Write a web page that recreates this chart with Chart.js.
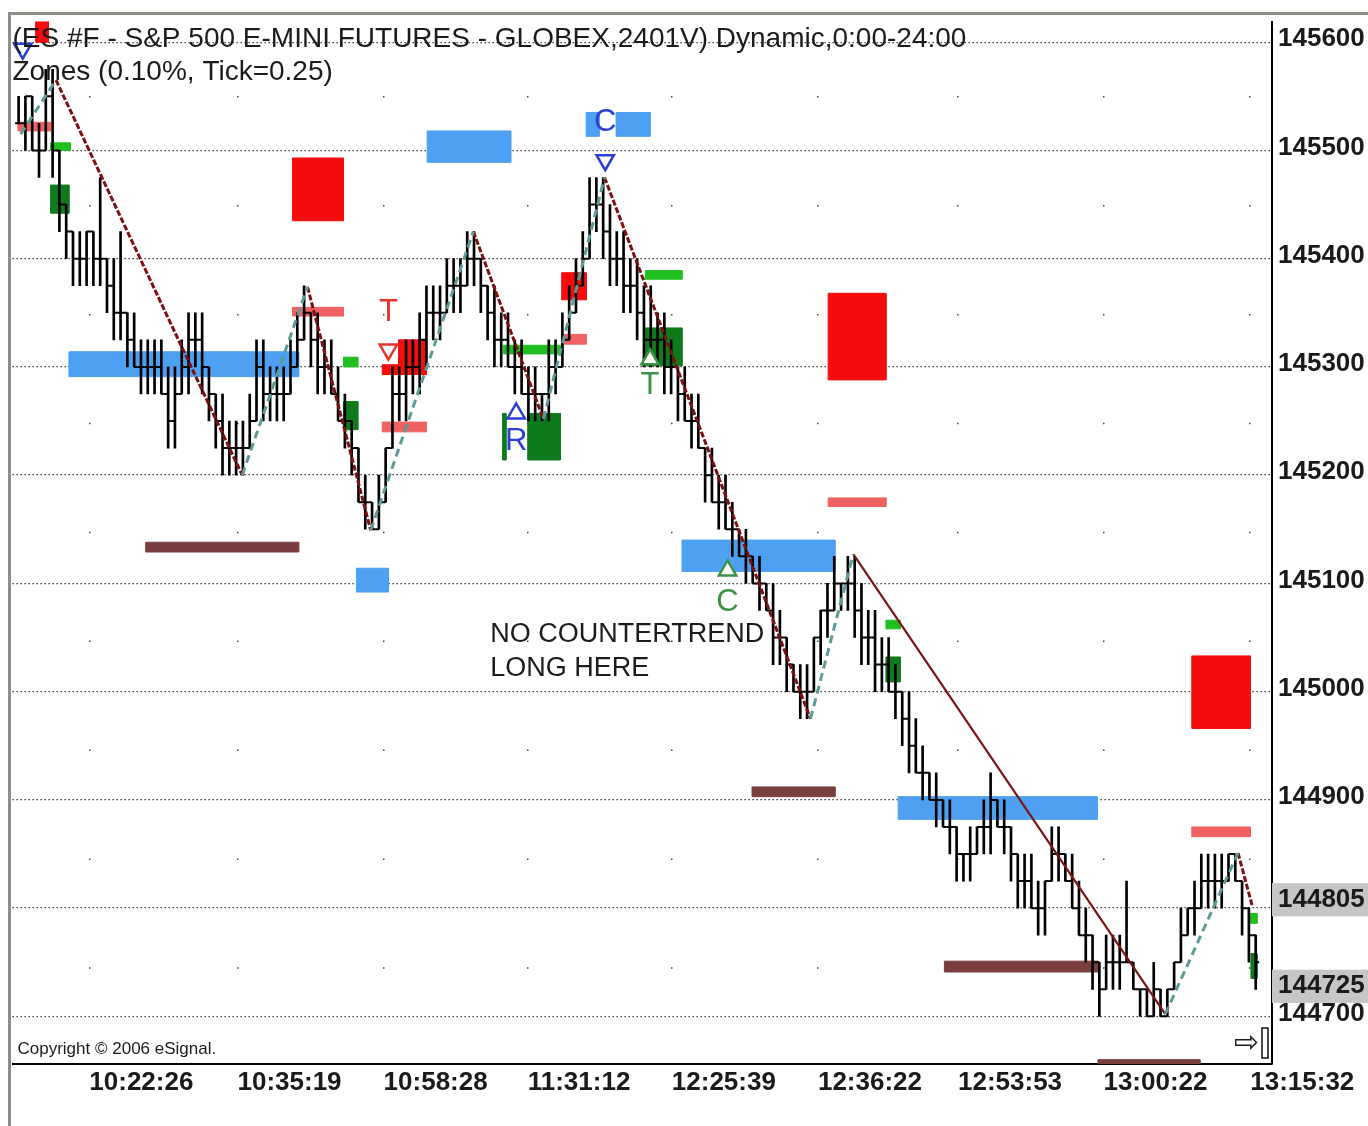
<!DOCTYPE html>
<html>
<head>
<meta charset="utf-8">
<title>ES #F zones</title>
<script src="https://cdn.jsdelivr.net/npm/chart.js@4.4.0/dist/chart.umd.min.js"></script>
<style>
  html, body { margin: 0; padding: 0; background: #fff; }
  #wrap { position: relative; width: 1368px; height: 1126px; overflow: hidden; }
  #frame { position: absolute; left: 8px; top: 12px; right: 0; bottom: 0;
           border-top: 3px solid #8e8e86; border-left: 3px solid #8e8e86; }
  canvas { position: absolute; left: 0; top: 0; }
</style>
</head>
<body>
<div id="wrap"><div id="frame"></div><canvas id="chart" width="1368" height="1126"></canvas></div>
<script>
// ----- price bars (2401 volume bars), one entry per bar -----
const highs = [
  145550, 145550, 145550, 145525, 145575, 145575, 145500, 145450, 145425, 145425,
  145425, 145425, 145475, 145400, 145400, 145425, 145350, 145350, 145325, 145325,
  145325, 145325, 145300, 145300, 145325, 145350, 145350, 145350, 145300, 145275,
  145275, 145250, 145250, 145250, 145275, 145325, 145325, 145300, 145300, 145300,
  145325, 145350, 145375, 145350, 145350, 145325, 145325, 145300, 145275, 145250,
  145225, 145200, 145175, 145200, 145225, 145300, 145300, 145325, 145325, 145350,
  145375, 145375, 145375, 145400, 145400, 145400, 145425, 145425, 145400, 145375,
  145375, 145350, 145350, 145325, 145325, 145300, 145300, 145275, 145325, 145325,
  145350, 145375, 145400, 145425, 145475, 145475, 145475, 145450, 145425, 145425,
  145400, 145400, 145375, 145375, 145350, 145350, 145325, 145300, 145300, 145275,
  145275, 145225, 145225, 145200, 145200, 145175, 145150, 145150, 145125, 145125,
  145100, 145100, 145075, 145050, 145025, 145025, 145025, 145050, 145075, 145100,
  145125, 145100, 145125, 145125, 145100, 145075, 145075, 145050, 145050, 145025,
  145000, 145000, 144975, 144950, 144925, 144925, 144900, 144900, 144875, 144850,
  144875, 144875, 144900, 144925, 144900, 144900, 144875, 144850, 144850, 144850,
  144825, 144825, 144875, 144875, 144850, 144850, 144825, 144800, 144775, 144750,
  144775, 144775, 144775, 144825, 144750, 144725, 144725, 144750, 144725, 144725,
  144750, 144800, 144800, 144825, 144850, 144850, 144850, 144850, 144850, 144850,
  144825, 144800, 144775
];
const lows = [
  145525, 145500, 145500, 145475, 145500, 145475, 145425, 145400, 145375, 145375,
  145375, 145375, 145375, 145350, 145325, 145325, 145300, 145300, 145275, 145275,
  145275, 145275, 145225, 145225, 145275, 145275, 145300, 145275, 145250, 145225,
  145200, 145200, 145200, 145200, 145225, 145250, 145250, 145250, 145250, 145250,
  145275, 145300, 145325, 145300, 145275, 145275, 145275, 145250, 145225, 145200,
  145175, 145150, 145150, 145150, 145175, 145225, 145250, 145250, 145275, 145275,
  145300, 145325, 145325, 145350, 145350, 145350, 145375, 145375, 145350, 145325,
  145300, 145300, 145300, 145275, 145275, 145250, 145250, 145250, 145250, 145275,
  145300, 145325, 145350, 145375, 145400, 145425, 145400, 145375, 145375, 145350,
  145350, 145325, 145300, 145300, 145300, 145275, 145275, 145250, 145250, 145225,
  145225, 145175, 145175, 145150, 145150, 145125, 145125, 145100, 145100, 145075,
  145075, 145025, 145025, 145000, 145000, 144975, 144975, 145000, 145025, 145050,
  145075, 145075, 145075, 145050, 145025, 145025, 145000, 145000, 145000, 144975,
  144950, 144925, 144925, 144900, 144900, 144875, 144875, 144850, 144825, 144825,
  144825, 144850, 144850, 144850, 144875, 144850, 144825, 144800, 144800, 144800,
  144775, 144775, 144825, 144825, 144825, 144800, 144775, 144750, 144725, 144700,
  144725, 144725, 144725, 144750, 144725, 144700, 144700, 144700, 144700, 144700,
  144725, 144750, 144775, 144775, 144800, 144800, 144800, 144800, 144825, 144825,
  144775, 144750, 144725
];
const closes = [
  145525, 145550, 145500, 145500, 145550, 145500, 145450, 145425, 145400, 145400,
  145425, 145400, 145400, 145375, 145350, 145350, 145325, 145300, 145300, 145300,
  145300, 145275, 145250, 145275, 145300, 145325, 145325, 145300, 145275, 145250,
  145225, 145225, 145225, 145225, 145250, 145300, 145275, 145275, 145275, 145275,
  145300, 145325, 145350, 145325, 145300, 145300, 145275, 145250, 145250, 145225,
  145175, 145175, 145150, 145175, 145225, 145275, 145275, 145300, 145300, 145325,
  145350, 145350, 145350, 145375, 145375, 145375, 145400, 145400, 145375, 145350,
  145325, 145325, 145300, 145300, 145275, 145275, 145275, 145275, 145300, 145300,
  145325, 145350, 145375, 145400, 145450, 145450, 145425, 145400, 145400, 145375,
  145375, 145350, 145325, 145325, 145325, 145300, 145300, 145275, 145250, 145250,
  145225, 145200, 145175, 145175, 145150, 145150, 145125, 145125, 145100, 145100,
  145075, 145050, 145050, 145025, 145000, 145000, 145000, 145050, 145075, 145075,
  145100, 145100, 145100, 145075, 145050, 145050, 145025, 145025, 145000, 145000,
  144975, 144950, 144925, 144925, 144900, 144900, 144875, 144875, 144850, 144850,
  144850, 144875, 144875, 144900, 144875, 144875, 144850, 144825, 144825, 144800,
  144800, 144825, 144850, 144850, 144825, 144800, 144775, 144775, 144750, 144725,
  144750, 144750, 144750, 144750, 144725, 144725, 144700, 144725, 144700, 144725,
  144750, 144775, 144800, 144800, 144825, 144825, 144825, 144825, 144850, 144825,
  144800, 144775, 144750
];

// ----- zigzag pivots (bar index, price) -----
const pivotIdx = [0.3, 5.5, 32.9, 42.5, 51.8, 66.9, 77.2, 86.2, 116.5, 122.8, 168.7, 179.4, 181.5];
const pivotPx  = [145515, 145565, 145200, 145374, 145149, 145425, 145252, 145475, 144975, 145127, 144702, 144851, 144802];
const upLegs = [0, 2, 4, 6, 8, 10];
const downLegs = [1, 3, 5, 7, 11];
const solidLegs = [9];

// ----- zones: kind, from bar, to bar, low price, high price -----
const zones = [
  ['red', 2.5, 4.4, 145600, 145619],
  ['salmon', -0.1, 4.7, 145518, 145526],
  ['green', 4.7, 7.6, 145500, 145507],
  ['dkgreen', 4.7, 7.4, 145442, 145468],
  ['red', 40.3, 47.8, 145435, 145493],
  ['blue', 60.1, 72.4, 145489, 145518],
  ['blue', 83.5, 85.4, 145513, 145535],
  ['blue', 87.9, 92.9, 145513, 145535],
  ['blue', 7.4, 41.2, 145291, 145314],
  ['salmon', 40.3, 47.8, 145347, 145355],
  ['green', 47.8, 49.9, 145300, 145309],
  ['dkgreen', 47.8, 49.9, 145242, 145268],
  ['brown', 18.7, 41.2, 145129, 145138],
  ['blue', 49.7, 54.4, 145092, 145114],
  ['red', 55.9, 60.0, 145293, 145325],
  ['red', 53.5, 60.0, 145293, 145302],
  ['salmon', 53.5, 60.0, 145240, 145249],
  ['green', 71.3, 80.1, 145312, 145320],
  ['dkgreen', 74.9, 79.7, 145214, 145257],
  ['dkgreen', 71.2, 71.7, 145214, 145257],
  ['red', 79.9, 83.5, 145362, 145387],
  ['salmon', 80.1, 83.5, 145321, 145330],
  ['green', 92.2, 97.6, 145381, 145389],
  ['dkgreen', 92.2, 97.6, 145301, 145336],
  ['red', 119.1, 127.6, 145288, 145368],
  ['salmon', 119.1, 127.6, 145171, 145179],
  ['blue', 97.6, 120.1, 145111, 145140],
  ['white', 102.9, 105.6, 145109, 145125],
  ['brown', 107.9, 120.1, 144903, 144912],
  ['green', 127.6, 129.7, 145058, 145066],
  ['dkgreen', 127.6, 129.7, 145009, 145032],
  ['blue', 129.4, 158.7, 144882, 144903],
  ['brown', 136.2, 158.8, 144741, 144751],
  ['red', 172.6, 181.2, 144966, 145033],
  ['salmon', 172.6, 181.2, 144866, 144875],
  ['green', 181.2, 182.2, 144786, 144795],
  ['dkgreen', 181.3, 182.2, 144735, 144758],
  ['brown', 158.8, 173.8, 144656, 144660]
];

// ----- signal triangles and letters -----
const marks = [
  ['blue', 0.6, 145594, 'down'],
  ['red', 54.4, 145316, 'down'],
  ['blue', 86.3, 145491, 'down'],
  ['blue', 73.2, 145257, 'up'],
  ['olive', 92.9, 145307, 'up'],
  ['olive', 104.3, 145112, 'up']
];
const letters = [
  ['T', 54.4, 145348, 'red'],
  ['C', 86.3, 145524, 'blue'],
  ['R', 73.2, 145229, 'blue'],
  ['T', 92.9, 145281, 'olive'],
  ['C', 104.3, 145081, 'olive']
];
const note = ['NO COUNTERTREND', 'LONG HERE'];
const noteAt = [69.4, 145053];

// ----- axes -----
const yTicks = [145600, 145500, 145400, 145300, 145200, 145100, 145000, 144900, 144805, 144800, 144725, 144700];
const yHighlighted = [144805, 144725];
const xTickIdx = [10.4, 32.2, 53.7, 74.9, 96.1, 117.6, 138.2, 159.6, 181.2];
const xTickLabels = ['10:22:26', '10:35:19', '10:58:28', '11:31:12', '12:25:39', '12:36:22', '12:53:53', '13:00:22', '13:15:32'];
const header = ['(ES #F - S&P 500 E-MINI FUTURES - GLOBEX,2401V) Dynamic,0:00-24:00', 'Zones (0.10%, Tick=0.25)'];

const zoneColors = {
  red: '#f50d0d', salmon: '#f06262', green: '#20c020', dkgreen: '#0e7a1c',
  blue: '#4ea1f2', brown: '#7a3e3e', white: '#ffffff'
};
const markColors = { red: '#e8322c', blue: '#2b3fd6', olive: '#3c9246' };
const FONT = '"Liberation Sans", Arial, sans-serif';

// axis labels in the original are tall and narrow; use the narrow face when it is installed
function hasFont(name) {
  const c = document.createElement('canvas').getContext('2d');
  c.font = '40px monospace';
  const base = c.measureText('1456000:').width;
  c.font = '40px "' + name + '", monospace';
  return c.measureText('1456000:').width !== base;
}
const narrow = hasFont('Liberation Sans Narrow');
const AXIS_FONT = narrow ? '"Liberation Sans Narrow", "Liberation Sans", sans-serif' : FONT;
const AXIS_SIZE = narrow ? 31 : 26;

Chart.defaults.font.family = FONT;
Chart.defaults.color = '#111';

function legPoints(list) {
  const pts = [];
  list.forEach((k) => {
    pts.push({ x: pivotIdx[k], y: pivotPx[k] });
    pts.push({ x: pivotIdx[k + 1], y: pivotPx[k + 1] });
    pts.push({ x: pivotIdx[k + 1], y: null });
  });
  return pts;
}

const barData = highs.map((h, i) => ({ x: i, y: [lows[i], h] }));
const openTicks = closes.map((c, i) => ({ x: i - 0.25, y: i === 0 ? c : closes[i - 1] }));
const closeTicks = closes.map((c, i) => ({ x: i + 0.25, y: c }));

const zoneSets = zones.map(([kind, x0, x1, lo, hi]) => ({
  type: 'line',
  order: 5,
  data: [{ x: x0, y: lo }, { x: x0, y: hi }, { x: x1, y: hi }, { x: x1, y: lo }, { x: x0, y: lo }],
  borderColor: zoneColors[kind],
  backgroundColor: zoneColors[kind],
  borderWidth: 1,
  pointRadius: 0,
  fill: 'shape',
  tension: 0
}));

const tickStyle = {
  type: 'line', order: 2, showLine: false, pointStyle: 'line',
  pointRadius: 1.8, pointBorderWidth: 2, pointBorderColor: '#000'
};

const datasets = [
  {
    type: 'line', order: 0, data: legPoints(upLegs),
    borderColor: '#5e9a96', borderWidth: 3, borderDash: [8, 5], pointRadius: 0, fill: false
  },
  {
    type: 'line', order: 0, data: legPoints(downLegs),
    borderColor: '#7e1010', borderWidth: 3, borderDash: [6, 2], pointRadius: 0, fill: false
  },
  {
    type: 'line', order: 0, data: legPoints(solidLegs),
    borderColor: '#7a1616', borderWidth: 2.2, pointRadius: 0, fill: false
  },
  {
    type: 'line', order: 0, showLine: false,
    data: marks.map((m) => ({ x: m[1], y: m[2] })),
    pointStyle: 'triangle', pointRadius: 10,
    pointRotation: marks.map((m) => (m[3] === 'down' ? 180 : 0)),
    pointBorderColor: marks.map((m) => markColors[m[0]]),
    pointBackgroundColor: '#fff', pointBorderWidth: 2.5
  },
  Object.assign({ data: openTicks }, tickStyle),
  Object.assign({ data: closeTicks }, tickStyle),
  {
    type: 'bar', order: 3, data: barData,
    backgroundColor: '#000', barThickness: 2, borderWidth: 0, grouped: false
  }
].concat(zoneSets);

// ----- texts on the chart -----
const notesPlugin = {
  id: 'notes',
  afterDatasetsDraw(chart) {
    const { ctx, chartArea, scales: { x, y } } = chart;
    ctx.save();
    ctx.textBaseline = 'middle';

    ctx.textAlign = 'center';
    ctx.font = '31px ' + FONT;
    letters.forEach(([t, xi, p, c]) => {
      ctx.fillStyle = markColors[c];
      ctx.fillText(t, x.getPixelForValue(xi), y.getPixelForValue(p) - 2);
    });

    ctx.textAlign = 'left';
    ctx.fillStyle = '#1b1b1b';
    ctx.font = '27px ' + FONT;
    ctx.fillText(note[0], x.getPixelForValue(noteAt[0]), y.getPixelForValue(noteAt[1]));
    ctx.fillText(note[1], x.getPixelForValue(noteAt[0]), y.getPixelForValue(noteAt[1]) + 34);

    ctx.font = '28px ' + FONT;
    ctx.fillText(header[0], chartArea.left, chartArea.top + 18);
    ctx.fillText(header[1], chartArea.left, chartArea.top + 51);

    ctx.font = '17px ' + FONT;
    ctx.fillText('Copyright \u00A9 2006 eSignal.', chartArea.left + 5, chartArea.bottom - 15);

    // scroll-to-end button at the lower right
    ctx.font = '30px "DejaVu Sans", sans-serif';
    ctx.fillText('\u21E8', chartArea.right - 38, chartArea.bottom - 20);
    ctx.strokeStyle = '#111';
    ctx.lineWidth = 1.5;
    ctx.strokeRect(chartArea.right - 10, chartArea.bottom - 36, 6, 30);
    ctx.restore();
  }
};

new Chart(document.getElementById('chart'), {
  type: 'bar',
  data: { datasets },
  options: {
    responsive: false,
    animation: false,
    events: [],
    layout: { padding: { left: 12, top: 15, right: 0, bottom: 0 } },
    plugins: { legend: { display: false }, tooltip: { enabled: false } },
    scales: {
      x: {
        type: 'linear',
        min: -0.9,
        max: 184.4,
        offset: false,
        afterBuildTicks: (s) => { s.ticks = xTickIdx.map((v) => ({ value: v })); },
        afterFit: (s) => { s.height = 62; },
        ticks: {
          autoSkip: false,
          maxRotation: 0,
          align: 'start',
          padding: 3,
          font: { family: AXIS_FONT, size: AXIS_SIZE, weight: 'bold' },
          color: '#1a1a1a',
          callback: (v, i) => xTickLabels[i]
        },
        grid: { offset: false, color: '#444', lineWidth: 1.5, drawTicks: false },
        border: { display: true, color: '#000', width: 2, dash: [1.5, 107.4], dashOffset: 34.4 }
      },
      y: {
        type: 'linear',
        position: 'right',
        min: 144656,
        max: 145619,
        afterBuildTicks: (s) => { s.ticks = yTicks.map((v) => ({ value: v })); },
        afterFit: (s) => { s.width = 96; },
        ticks: {
          autoSkip: false,
          padding: 6,
          labelOffset: -3,
          font: { family: AXIS_FONT, size: AXIS_SIZE, weight: 'bold' },
          color: '#1a1a1a',
          callback: (v) => (v === 144800 ? '' : String(v)),
          showLabelBackdrop: (c) => yHighlighted.includes(c.tick && c.tick.value),
          backdropColor: '#c6c6c6',
          backdropPadding: { top: 1, bottom: 1, left: 6, right: 8 }
        },
        grid: {
          drawTicks: false,
          lineWidth: 1.3,
          color: (c) => (c.tick && c.tick.value % 100 === 0 ? '#222' : 'rgba(0,0,0,0)')
        },
        border: { display: true, color: '#000', width: 2, dash: [1.3, 2.7] }
      }
    }
  },
  plugins: [notesPlugin]
});
</script>
</body>
</html>
